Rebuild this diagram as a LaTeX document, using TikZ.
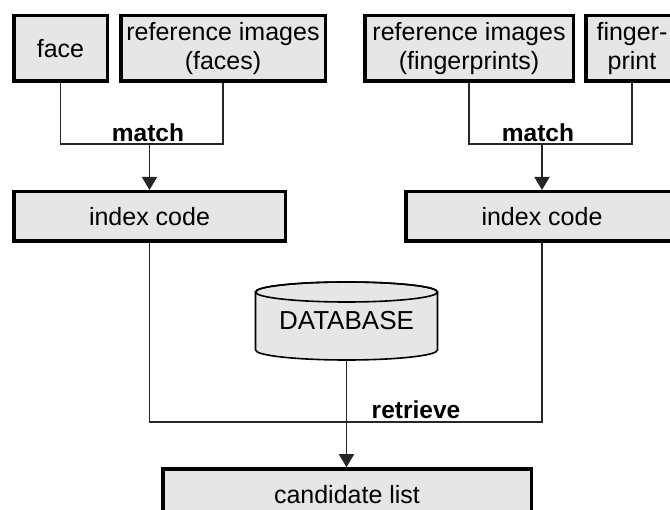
\documentclass[tikz,border=0pt]{standalone}
\usepackage{fontspec}
\setmainfont{Liberation Sans}
\usetikzlibrary{arrows.meta}
\definecolor{boxfill}{HTML}{E6E6E6}
\begin{document}
\begin{tikzpicture}[x=1pt,y=-1pt,
  box/.style={draw=black, line width=3.5pt, fill=boxfill, inner sep=0pt, align=center,
    font=\fontsize{25}{29}\selectfont},
  conn/.style={line width=1.6pt, draw=black!85},
  arr/.style={conn, -{Triangle[length=13pt,width=15pt]}},
  lbl/.style={font=\fontsize{24.5}{28}\selectfont\bfseries, inner sep=0pt},
  dbtext/.style={font=\fontsize{26}{30}\selectfont, inner sep=0pt, minimum width=183pt, minimum height=78pt}]
\useasboundingbox (0,0) rectangle (670,510);
\clip (0,0) rectangle (670,510);
% top boxes
\node[box, minimum width=93.5pt, minimum height=65.5pt] (face) at (60.5,48.5) {face};
\node[box, minimum width=204.5pt, minimum height=65.5pt] (reffaces) at (223,48.5) {reference images\\(faces)};
\node[box, minimum width=208.5pt, minimum height=65.5pt] (reffp) at (469,48.5) {reference images\\(fingerprints)};
\node[box, minimum width=92.5pt, minimum height=65.5pt] (fp) at (632,48.5) {finger-\\print};
% index boxes
\node[box, minimum width=271.5pt, minimum height=49.5pt] (indexL) at (149.5,216.5) {index code};
\node[box, minimum width=272.5pt, minimum height=49.5pt] (indexR) at (542,216.5) {index code};
% candidate list
\node[box, minimum width=368.5pt, minimum height=52pt] (cand) at (347,495) {candidate list};
% database cylinder
\path[fill=boxfill, draw=black, line width=1.6pt]
  (255.5,292) -- (255.5,350) arc[start angle=180, end angle=0, x radius=91, y radius=10]
  -- (437.5,292) arc[start angle=0, end angle=-180, x radius=91, y radius=10] -- cycle;
\draw[line width=1.6pt] (346.5,292) ellipse [x radius=91, y radius=10];
\node[dbtext] (db) at (346.5,321) {DATABASE};
% match left
\coordinate (mL) at (149.5,144);
\draw[conn] (face.south) |- (mL) -| (reffaces.south);
\draw[arr] (mL) -- (indexL.north);
\node[lbl] (matchL) at (148,133) {match};
% match right
\coordinate (mR) at (542,144);
\draw[conn] (reffp.south) |- (mR) -| (fp.south);
\draw[arr] (mR) -- (indexR.north);
\node[lbl] (matchR) at (538,133) {match};
% retrieve
\coordinate (rt) at (346.5,422);
\draw[conn] (indexL.south) |- (rt) -| (indexR.south);
\draw[arr] (db.south) -- (db.south |- cand.north);
\node[lbl] (ret) at (416,410) {retrieve};
\end{tikzpicture}
\end{document}
